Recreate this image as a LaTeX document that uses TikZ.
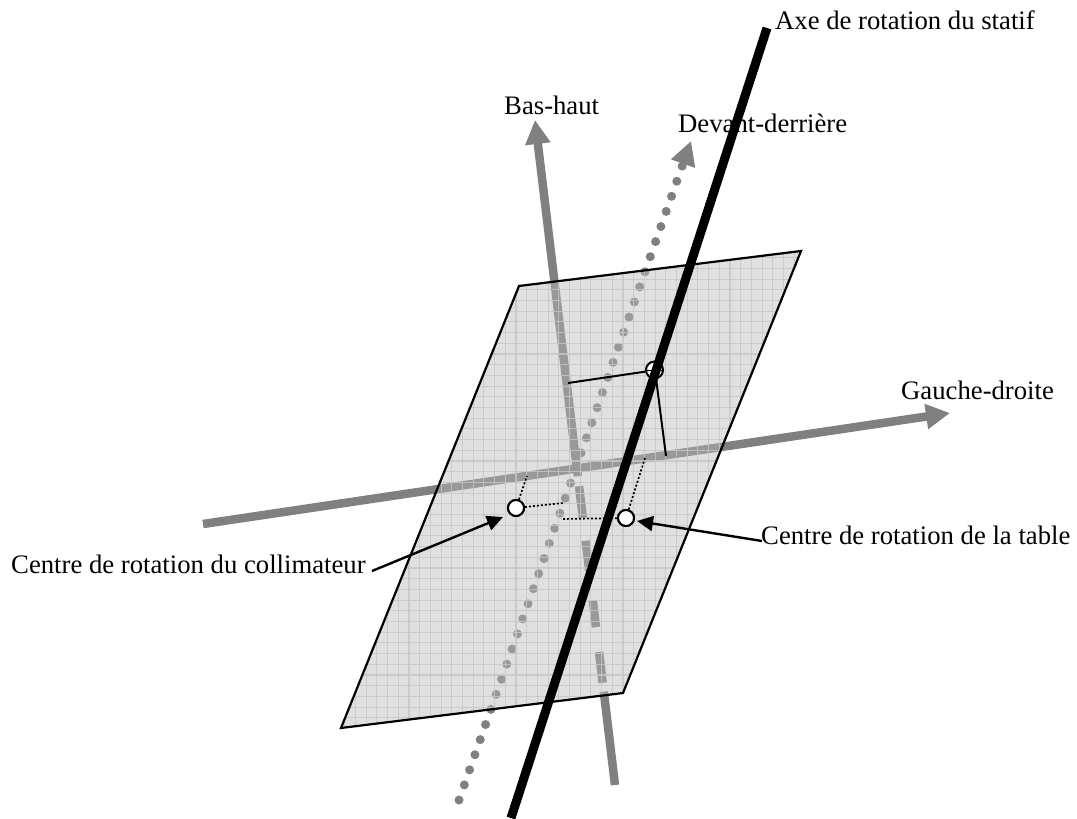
\documentclass[tikz,border=0pt]{standalone}
\usepackage{fontspec}
\setmainfont{Liberation Serif}
\usepackage{xcolor}
\usetikzlibrary{arrows.meta}
\definecolor{axegris}{HTML}{808080}
\definecolor{plangris}{HTML}{B9B9B9}
\definecolor{grille}{HTML}{C6C6C6}
\begin{document}
\begin{tikzpicture}[
  x=1pt,y=-1pt,
  lab/.style={inner sep=0pt,anchor=base west,font=\fontsize{26.7}{30}\selectfont},
  axe/.style={draw=axegris,line width=8.5pt,-{Triangle[length=24pt,width=24pt,fill=axegris]}},
  pts/.style={axe,line width=9pt,line cap=round,dash pattern=on 0pt off 16pt},
  fin/.style={line width=2pt},
  ptl/.style={line width=1.7pt,dash pattern=on 2pt off 2pt},
  fle/.style={line width=2.4pt,-{Triangle[length=16pt,width=15pt]}},
  rond/.style={circle,draw,fill=white,line width=2pt,inner sep=0pt,minimum size=17pt}]
  \useasboundingbox (0,0) rectangle (1077,819);
  \coordinate (g) at (203,524); \coordinate (d) at (950,413);
  \coordinate (b) at (615,785); \coordinate (h) at (535,120);
  \coordinate (de) at (459,800); \coordinate (dr) at (691,141);
  \coordinate (p1) at (519,286); \coordinate (p2) at (801,251);
  \coordinate (p3) at (623,693); \coordinate (p4) at (341,728);
  \draw[axe] (g)--(d);
  \draw[axe,dash pattern=on 94pt off 9pt on 31pt off 25pt on 27pt off 30pt on 30pt off 23pt on 32pt off 10pt on 1000pt] (b)--(h);
  \draw[pts] (de)--(dr);
  \fill[plangris,fill opacity=.44] (p1)--(p2)--(p3)--(p4)--cycle;
  \begin{scope}
    \clip (p1)--(p2)--(p3)--(p4)--cycle;
    \foreach \i in {0,...,45} {
      \draw[grille,line width=1.1pt,opacity=.8] (334.1+\i*10.7,240)--(334.1+\i*10.7,740);
      \draw[grille,line width=1.1pt,opacity=.8] (330,247+\i*10.7)--(810,247+\i*10.7);
    }
  \end{scope}
  \draw[line width=2.2pt,line join=miter] (p1)--(p2)--(p3)--(p4)--cycle;
  \node[lab] (axe) at (775,29) {Axe de rotation du statif};
  \node[lab] (bh) at (504,114) {Bas-haut};
  \node[lab] (dd) at (678,132) {Devant-derrière};
  \node[lab] (gd) at (901,399) {Gauche-droite};
  \node[lab] (ctab) at (761,544) {Centre de rotation de la table};
  \node[lab] (ccol) at (11,573) {Centre de rotation du collimateur};
  \node[rond] (rs) at (654.5,370) {};
  \node[rond,minimum size=16pt] (rc) at (516,508) {};
  \node[rond,minimum size=16pt] (rt) at (626,518) {};
  \draw[line width=1pt] (rs.west)--(rs.east) (rs.north)--(rs.south);
  \coordinate (s1) at (568,383); \coordinate (s2) at (666,456);
  \draw[fin] (s1)--(rs.190); \draw[fin] (s2)--(rs.-80);
  \coordinate (c1) at (527,476); \coordinate (c2) at (563,503);
  \coordinate (t1) at (561,519); \coordinate (t2) at (645,458);
  \draw[ptl] (rc)--(c1); \draw[ptl] (rc)--(c2);
  \draw[ptl] (rt)--(t1); \draw[ptl] (rt)--(t2);
  \node[rond,minimum size=16pt] at (rc) {};
  \node[rond,minimum size=16pt] at (rt) {};
  \coordinate (r1) at (372,571); \coordinate (r2) at (503,517);
  \coordinate (r3) at (762,541); \coordinate (r4) at (637,521);
  \draw[fle] (r1)--(r2); \draw[fle] (r3)--(r4);
  \coordinate (st1) at (767,28); \coordinate (st2) at (511,818);
  \draw[line width=9pt] (st1)--(st2);
\end{tikzpicture}
\end{document}
